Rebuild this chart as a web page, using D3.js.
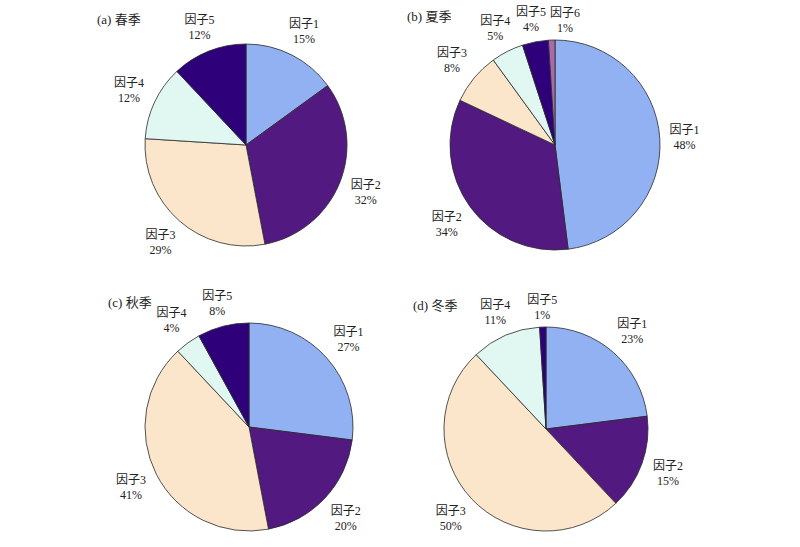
<!DOCTYPE html>
<html>
<head>
<meta charset="utf-8">
<script src="https://cdn.jsdelivr.net/npm/d3@7"></script>
<style>
  html, body { margin: 0; padding: 0; background: #fff; }
  svg { display: block; }
  text { font-family: "Liberation Serif", "Noto Sans CJK SC", serif; fill: #222; }
</style>
</head>
<body>
<svg id="chart" width="800" height="547"></svg>
<script>
// ---- data ----
const factorNames = ["因子1", "因子2", "因子3", "因子4", "因子5", "因子6"];
const factorColors = ["#92b1f2", "#521a80", "#fbe5cb", "#e0f7f2", "#2e007a", "#a86aa8"];

const panelTitles = ["(a) 春季", "(b) 夏季", "(c) 秋季", "(d) 冬季"];
const springValues = [15, 32, 29, 12, 12];
const summerValues = [48, 34, 8, 5, 4, 1];
const autumnValues = [27, 20, 41, 4, 8];
const winterValues = [23, 15, 50, 11, 1];

// ---- layout ----
const panels = [
  { title: panelTitles[0], values: springValues, cx: 246, cy: 145, r: 101, tx: 97,  ty: 24 },
  { title: panelTitles[1], values: summerValues, cx: 555, cy: 145, r: 105, tx: 407, ty: 21 },
  { title: panelTitles[2], values: autumnValues, cx: 249, cy: 427, r: 104, tx: 108, ty: 307 },
  { title: panelTitles[3], values: winterValues, cx: 546, cy: 429, r: 102, tx: 413, ty: 310 }
];

const svg = d3.select("#chart");

const pie = d3.pie().sort(null).value(d => d.value)
  .startAngle(0).endAngle(2 * Math.PI);

panels.forEach(p => {
  const data = p.values.map((v, i) => ({ name: factorNames[i], value: v, color: factorColors[i] }));
  const arcs = pie(data);
  const arc = d3.arc().innerRadius(0).outerRadius(p.r);
  const g = svg.append("g").attr("transform", `translate(${p.cx},${p.cy})`);

  g.selectAll("path").data(arcs).join("path")
    .attr("d", arc)
    .attr("fill", d => d.data.color)
    .attr("stroke", "#2a2a2a")
    .attr("stroke-width", 0.8);

  // labels outside
  const w = 36, h = 28, gap = 6;
  const labels = arcs.map(a => {
    const m = (a.startAngle + a.endAngle) / 2;
    const s = Math.sin(m), c = Math.cos(m);
    const dist = p.r + gap + Math.abs(s) * w / 2 + Math.abs(c) * h / 2;
    return { a, x: s * dist, y: -c * dist };
  });
  // simple collision resolution: push later labels sideways if overlapping
  for (let i = 1; i < labels.length; i++) {
    for (let j = 0; j < i; j++) {
      const A = labels[j], B = labels[i];
      if (Math.abs(A.x - B.x) < 34 && Math.abs(A.y - B.y) < h) {
        if (B.x >= A.x) B.x = A.x + 34; else B.x = A.x - 34;
      }
    }
  }
  const lg = g.selectAll("g.lbl").data(labels).join("g")
    .attr("class", "lbl")
    .attr("transform", d => `translate(${d.x},${d.y})`);
  lg.append("text").attr("text-anchor", "middle").attr("y", -3)
    .style("font-size", "12px")
    .text(d => d.a.data.name);
  lg.append("text").attr("text-anchor", "middle").attr("y", 12)
    .style("font-size", "12px")
    .text(d => d.a.data.value + "%");

  svg.append("text")
    .attr("x", p.tx).attr("y", p.ty)
    .style("font-size", "13px")
    .text(p.title);
});
</script>
</body>
</html>
